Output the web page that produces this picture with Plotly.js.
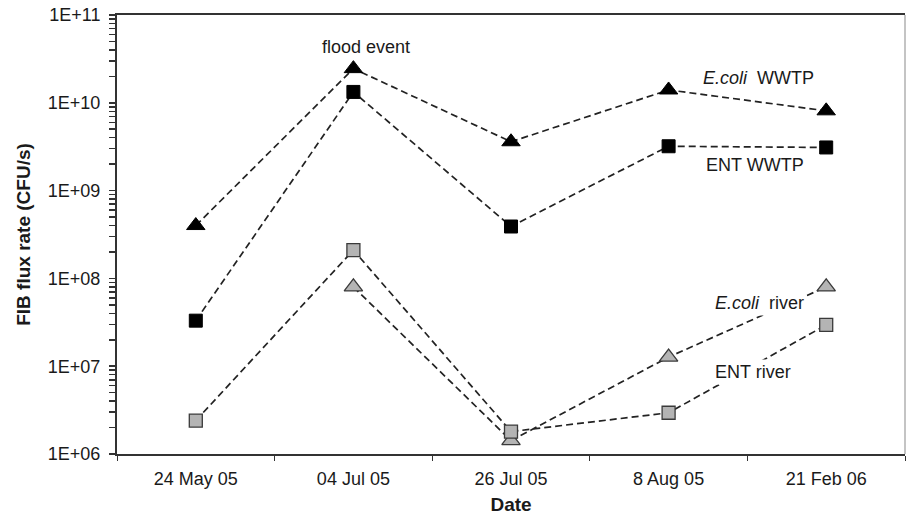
<!DOCTYPE html>
<html>
<head>
<meta charset="utf-8">
<script src="https://cdn.plot.ly/plotly-3.0.1.min.js"></script>
<style>html,body{margin:0;padding:0;background:#fff;}#chart{width:907px;height:515px;}</style>
</head>
<body>
<div id="chart"></div>
<script>
var dates = ['24 May 05', '04 Jul 05', '26 Jul 05', '8 Aug 05', '21 Feb 06'];
var ecoliWWTP = [4.0e8, 2.45e10, 3.6e9, 1.4e10, 8.1e9];
var entWWTP = [3.3e7, 1.33e10, 3.9e8, 3.2e9, 3.1e9];
var entRiver = [2.4e6, 2.1e8, 1.8e6, 2.95e6, 2.95e7];
var ecoliRiverDates = ['04 Jul 05', '26 Jul 05', '8 Aug 05', '21 Feb 06'];
var ecoliRiver = [8.0e7, 1.42e6, 1.27e7, 8.0e7];
var yTickVals = [1e6, 1e7, 1e8, 1e9, 1e10, 1e11];
var yTickText = ['1E+06', '1E+07', '1E+08', '1E+09', '1E+10', '1E+11'];
var minorDigits = [2, 3, 4, 5, 6, 7, 8, 9];

// axis ticks: labelled decades plus unlabelled minor ticks
var allTickVals = yTickVals.slice();
var allTickText = yTickText.slice();
for (var i = 0; i < yTickVals.length - 1; i++) {
  for (var j = 0; j < minorDigits.length; j++) {
    allTickVals.push(yTickVals[i] * minorDigits[j]);
    allTickText.push('');
  }
}

var font = 'Liberation Sans, Arial, sans-serif';
var lineStyle = {color: '#222', width: 1.7, dash: '7px,4px'};

var traces = [
  {x: dates, y: ecoliWWTP, name: 'E.coli WWTP', mode: 'lines+markers', type: 'scatter',
   line: lineStyle, marker: {symbol: 'triangle-up', size: 16, color: '#000', line: {color: '#000', width: 1}}},
  {x: dates, y: entWWTP, name: 'ENT WWTP', mode: 'lines+markers', type: 'scatter',
   line: lineStyle, marker: {symbol: 'square', size: 13, color: '#000', line: {color: '#000', width: 1}}},
  {x: ecoliRiverDates, y: ecoliRiver, name: 'E.coli river', mode: 'lines+markers', type: 'scatter',
   line: lineStyle, marker: {symbol: 'triangle-up', size: 16, color: '#b4b4b4', line: {color: '#3a3a3a', width: 1.3}}},
  {x: dates, y: entRiver, name: 'ENT river', mode: 'lines+markers', type: 'scatter',
   line: lineStyle, marker: {symbol: 'square', size: 13, color: '#b4b4b4', line: {color: '#3a3a3a', width: 1.3}}}
];

var annFont = {family: font, size: 18, color: '#1a1a1a'};
function ann(text, x, y, bg) {
  var a = {text: text, xref: 'paper', yref: 'paper', x: x, y: y, xanchor: 'center', yanchor: 'middle',
           showarrow: false, font: annFont};
  if (bg) { a.bgcolor = '#fff'; a.borderpad = 2; }
  return a;
}
var layout = {
  width: 907, height: 515,
  margin: {l: 117, r: 2, t: 15, b: 61},
  paper_bgcolor: '#fff', plot_bgcolor: '#fff',
  showlegend: false,
  font: {family: font, size: 18, color: '#1a1a1a'},
  xaxis: {
    type: 'category', range: [-0.5, 4.5],
    categoryorder: 'array', categoryarray: dates,
    showgrid: false, zeroline: false,
    showline: true, linecolor: '#333', linewidth: 2, mirror: true,
    ticks: 'outside', ticklen: 5, tickcolor: '#333', tickson: 'boundaries',
    ticklabelstandoff: 7,
    tickfont: {family: font, size: 18, color: '#1a1a1a'},
    title: {text: '<b>Date</b>', font: {family: font, size: 19, color: '#1a1a1a'}, standoff: 10}
  },
  yaxis: {
    type: 'log', range: [6, 11],
    tickmode: 'array', tickvals: allTickVals, ticktext: allTickText,
    showgrid: false, zeroline: false,
    showline: true, linecolor: '#333', linewidth: 2,
    ticks: 'outside', ticklen: 6, tickcolor: '#333', tickwidth: 1.5,
    ticklabelstandoff: 5,
    tickfont: {family: font, size: 18, color: '#1a1a1a'},
    title: {text: '<b>FIB flux rate (CFU/s)</b>', font: {family: font, size: 19, color: '#1a1a1a'}, standoff: 12}
  },
  shapes: [
    {type: 'line', xref: 'paper', yref: 'paper', x0: 1, x1: 1, y0: 0, y1: 1,
     line: {color: '#b0b0b0', width: 1.5}}
  ],
  annotations: [
    ann('flood event', 0.316, 0.927),
    ann('<i>E.coli</i>  WWTP', 0.8135, 0.8565),
    ann('ENT WWTP', 0.8096, 0.658),
    ann('<i>E.coli</i>  river', 0.815, 0.344, true),
    ann('ENT river', 0.807, 0.187, true)
  ]
};

Plotly.newPlot('chart', traces, layout, {displayModeBar: false, staticPlot: true});
</script>
</body>
</html>
